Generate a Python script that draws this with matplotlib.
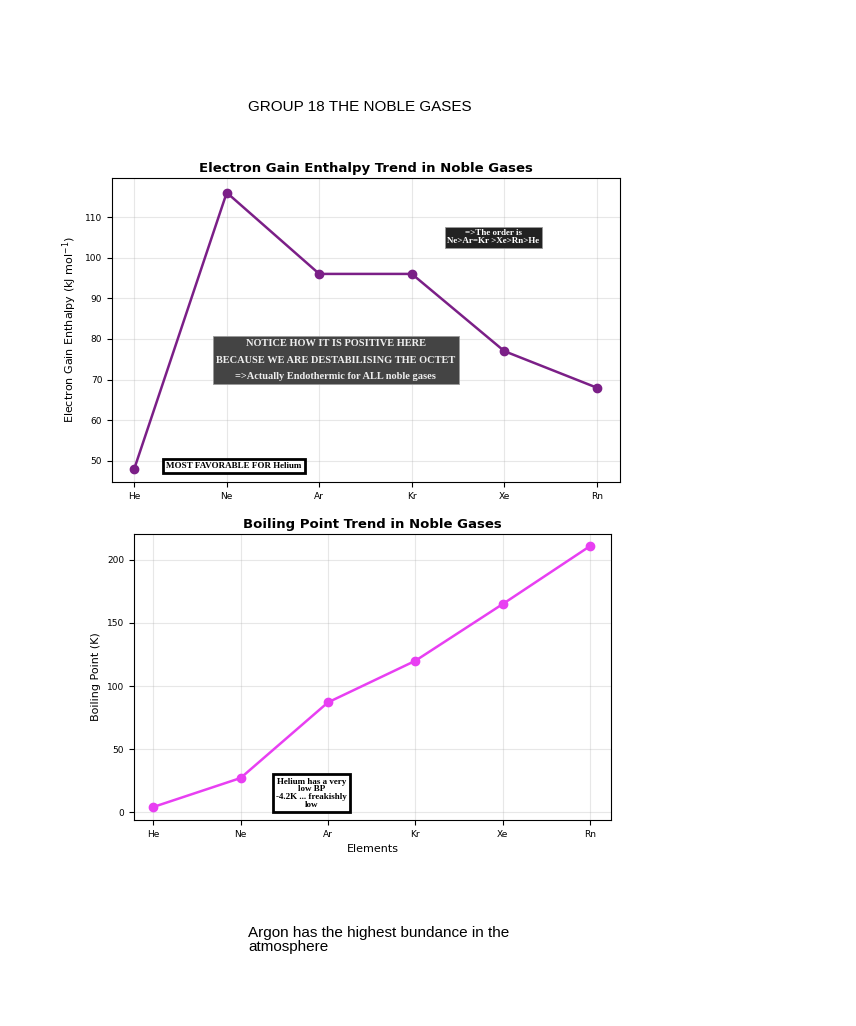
import matplotlib
matplotlib.use("Agg")
import matplotlib.pyplot as plt

elements = ["He", "Ne", "Ar", "Kr", "Xe", "Rn"]
gain_enthalpy = [48, 116, 96, 96, 77, 68]
boiling_point = [4, 27, 87, 120, 165, 211]

W, H = 856, 1026
fig = plt.figure(figsize=(W / 100, H / 100), dpi=100)

def ax_at(x0, y0, x1, y1):
    return fig.add_axes([x0 / W, 1 - y1 / H, (x1 - x0) / W, (y1 - y0) / H])

fig.text(248 / W, 1 - 107 / H, "GROUP 18 THE NOBLE GASES", fontsize=11,
         family="Liberation Sans", va="center")
fig.text(248 / W, 1 - 940 / H, "Argon has the highest bundance in the\natmosphere",
         fontsize=11, family="Liberation Sans", va="center", linespacing=1.0)

serif = dict(family="Liberation Serif", fontweight="bold")

# top chart
ax1 = ax_at(112, 178, 620, 482)
ax1.plot(elements, gain_enthalpy, color="#7b1f87", marker="o", lw=1.8, ms=6)
ax1.set_ylim(44.8, 119.6)
ax1.set_xlim(-0.24, 5.25)
ax1.set_yticks([50, 60, 70, 80, 90, 100, 110])
ax1.grid(alpha=0.3)
ax1.tick_params(labelsize=6.5)
ax1.set_title("Electron Gain Enthalpy Trend in Noble Gases", fontsize=9.5, fontweight="bold", pad=4)
ax1.set_ylabel("Electron Gain Enthalpy (kJ mol$^{-1}$)", fontsize=8)
ax1.text(3.88, 105, "=>The order is\nNe>Ar=Kr >Xe>Rn>He", color="white", fontsize=6.5,
         ha="center", va="center", linespacing=1.0,
         bbox=dict(boxstyle="square,pad=0.25", fc="#222222", ec="#999999", lw=0.6), **serif)
ax1.text(2.18, 74.8,
         "NOTICE HOW IT IS POSITIVE HERE\n\nBECAUSE WE ARE DESTABILISING THE OCTET\n\n=>Actually Endothermic for ALL noble gases",
         color="#eeeeee", fontsize=7.5, ha="center", va="center", linespacing=0.9,
         bbox=dict(boxstyle="square,pad=0.3", fc="#444444", ec="#999999", lw=0.6), **serif)
ax1.text(1.08, 48.8, "MOST FAVORABLE FOR Helium", fontsize=6.5, ha="center", va="center",
         bbox=dict(boxstyle="square,pad=0.35", fc="white", ec="black", lw=2), **serif)

# bottom chart
ax2 = ax_at(134, 534, 611, 820)
ax2.plot(elements, boiling_point, color="#e83ff2", marker="o", lw=1.8, ms=6)
ax2.set_ylim(-6.3, 220.6)
ax2.set_xlim(-0.22, 5.24)
ax2.set_yticks([0, 50, 100, 150, 200])
ax2.grid(alpha=0.3)
ax2.tick_params(labelsize=6.5)
ax2.set_title("Boiling Point Trend in Noble Gases", fontsize=9.5, fontweight="bold", pad=4)
ax2.set_ylabel("Boiling Point (K)", fontsize=8)
ax2.set_xlabel("Elements", fontsize=8)
ax2.text(1.81, 15, "Helium has a very\nlow BP\n-4.2K ... freakishly\nlow", fontsize=6.5,
         ha="center", va="center", linespacing=0.95,
         bbox=dict(boxstyle="square,pad=0.35", fc="white", ec="black", lw=2), **serif)

fig.savefig("out.png", dpi=100)
